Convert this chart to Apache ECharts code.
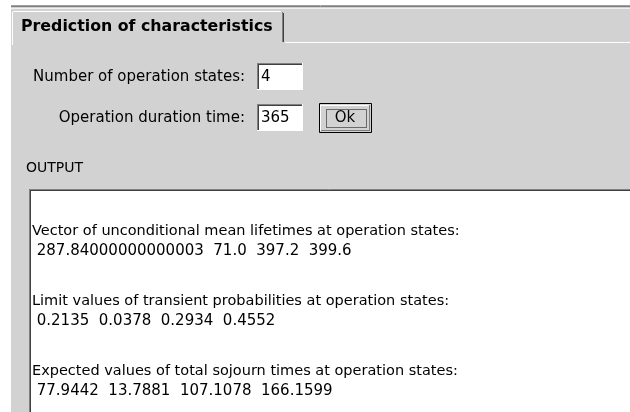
<!DOCTYPE html>
<html>
<head>
<meta charset="utf-8">
<script src="https://cdn.jsdelivr.net/npm/echarts@6/dist/echarts.min.js"></script>
<style>
html, body { margin: 0; padding: 0; background: #ffffff; }
#main { width: 630px; height: 412px; }
</style>
</head>
<body>
<div id="main"></div>
<script>
// 输入参数
var stateCount = '4';
var durationTime = '365';
// 输出结果 (按原样显示的字符串)
var lifetimes = ['287.84000000000003', '71.0', '397.2', '399.6'];
var probabilities = ['0.2135', '0.0378', '0.2934', '0.4552'];
var sojournTimes = ['77.9442', '13.7881', '107.1078', '166.1599'];
var outputTitles = [
    'Vector of unconditional mean lifetimes at operation states:',
    'Limit values of transient probabilities at operation states:',
    'Expected values of total sojourn times at operation states:'
];

var myChart = echarts.init(document.getElementById('main'));
var FONT = '"DejaVu Sans", sans-serif';
var PANEL = '#d2d2d2';

function rect(x, y, w, h, fill, stroke, lw, dash)
{
    return {
        type: 'rect',
        shape: { x: x, y: y, width: w, height: h },
        style: { fill: fill || 'none', stroke: stroke || null, lineWidth: lw || 1, lineDash: dash || null }
    };
}
function line(x1, y1, x2, y2, color, lw)
{
    return {
        type: 'line',
        shape: { x1: x1, y1: y1, x2: x2, y2: y2 },
        style: { stroke: color, lineWidth: lw || 1 }
    };
}
function text(x, y, str, size, weight, align)
{
    return {
        type: 'text',
        x: x, y: y,
        style: {
            text: str, fill: '#000000', font: (weight || 'normal') + ' ' + size + 'px ' + FONT,
            textAlign: align || 'left', textVerticalAlign: 'middle'
        }
    };
}
// 凹陷的输入框
function sunkenBox(x, y, w, h, val)
{
    return [
        rect(x, y, w, h, '#ffffff'),
        line(x, y + 0.5, x + w, y + 0.5, '#808080'),
        line(x + 0.5, y, x + 0.5, y + h, '#808080'),
        line(x + 1, y + 1.5, x + w - 1, y + 1.5, '#404040'),
        line(x + 1.5, y + 1, x + 1.5, y + h - 1, '#404040'),
        line(x, y + h - 0.5, x + w, y + h - 0.5, '#ffffff'),
        line(x + w - 0.5, y, x + w - 0.5, y + h, '#ffffff'),
        text(x + 4, y + h / 2 + 1, val, 15)
    ];
}

var els = [];
// 面板背景
els.push(rect(11, 6, 619, 406, PANEL));
els.push(line(11, 5.5, 630, 5.5, '#a0a0a0'));
els.push(line(11, 6.5, 630, 6.5, '#808080'));
els.push(line(11, 8.5, 630, 8.5, '#f0f0f0'));
// 标签页
els.push(line(13, 11.5, 281, 11.5, '#ffffff'));
els.push(line(12.5, 12, 12.5, 45, '#ffffff'));
els.push(line(282.5, 12, 282.5, 42, '#808080'));
els.push(line(283.5, 13, 283.5, 42, '#404040'));
els.push(line(285, 42.5, 630, 42.5, '#ffffff'));
els.push(text(21, 27, 'Prediction of characteristics', 15.8, 'bold'));

// 输入区
els.push(text(245, 77, 'Number of operation states:', 15, 'normal', 'right'));
els = els.concat(sunkenBox(257, 63, 46, 27, stateCount));
els.push(text(245, 118, 'Operation duration time:', 15, 'normal', 'right'));
els = els.concat(sunkenBox(257, 104, 46, 27, durationTime));

// Ok 按钮
els.push(rect(319.5, 103.5, 52, 29, PANEL, '#000000'));
els.push(line(321, 105.5, 369, 105.5, '#ffffff'));
els.push(line(320.5, 105, 320.5, 131, '#ffffff'));
els.push(line(321, 130.5, 370, 130.5, '#808080'));
els.push(line(369.5, 105, 369.5, 131, '#808080'));
els.push(rect(326.5, 109.5, 40, 18, 'none', '#000000', 1, [1, 1]));
els.push(text(345, 118, 'Ok', 15, 'normal', 'center'));

// 输出区
els.push(text(26, 168, 'OUTPUT', 14));
els.push(rect(29, 189, 601, 223, '#ffffff'));
els.push(line(29, 189.5, 630, 189.5, '#808080'));
els.push(line(29.5, 189, 29.5, 412, '#808080'));
els.push(line(30, 190.5, 630, 190.5, '#404040'));
els.push(line(30.5, 190, 30.5, 412, '#404040'));

var blocks = [lifetimes, probabilities, sojournTimes];
for (var i = 0; i < blocks.length; i++)
{
    var y0 = 231 + i * 70;
    els.push(text(32, y0, outputTitles[i], 14.5));
    els.push(text(32, y0 + 20, ' ' + blocks[i].join('  '), 15));
}

myChart.setOption({
    animation: false,
    backgroundColor: '#ffffff',
    graphic: { elements: els }
});
</script>
</body>
</html>
